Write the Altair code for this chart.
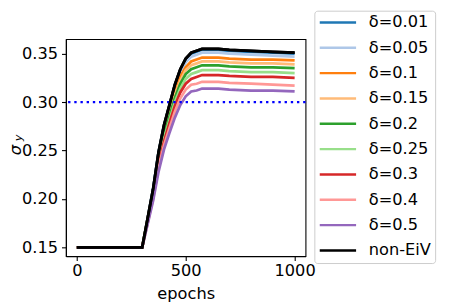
import altair as alt
import pandas as pd

epochs = [0, 300, 325, 350, 375, 400, 425, 450, 475, 500, 525, 550, 575, 600, 650, 700, 800, 900, 1000]

labels = ["δ=0.01", "δ=0.05", "δ=0.1", "δ=0.15", "δ=0.2", "δ=0.25", "δ=0.3", "δ=0.4", "δ=0.5", "non-EiV"]
colors = ["#1f77b4", "#aec7e8", "#ff7f0e", "#ffbb78", "#2ca02c", "#98df8a", "#d62728", "#ff9896", "#9467bd", "#000000"]

d001 = [0.150, 0.150, 0.180, 0.210, 0.248, 0.275, 0.296, 0.317, 0.333, 0.344, 0.350, 0.352, 0.354, 0.354, 0.354, 0.353, 0.352, 0.351, 0.350]
d005 = [0.150, 0.150, 0.179, 0.209, 0.246, 0.274, 0.294, 0.315, 0.330, 0.341, 0.347, 0.349, 0.351, 0.351, 0.351, 0.350, 0.349, 0.348, 0.347]
d010 = [0.150, 0.150, 0.179, 0.207, 0.244, 0.270, 0.290, 0.311, 0.326, 0.336, 0.342, 0.344, 0.346, 0.346, 0.346, 0.345, 0.344, 0.344, 0.343]
d015 = [0.150, 0.150, 0.178, 0.206, 0.242, 0.268, 0.288, 0.307, 0.322, 0.333, 0.338, 0.340, 0.342, 0.342, 0.342, 0.341, 0.340, 0.340, 0.339]
d020 = [0.150, 0.150, 0.177, 0.205, 0.240, 0.266, 0.285, 0.304, 0.319, 0.329, 0.334, 0.336, 0.338, 0.338, 0.338, 0.337, 0.336, 0.336, 0.335]
d025 = [0.150, 0.150, 0.177, 0.204, 0.237, 0.262, 0.281, 0.300, 0.314, 0.324, 0.329, 0.331, 0.333, 0.333, 0.333, 0.332, 0.331, 0.331, 0.330]
d030 = [0.150, 0.150, 0.176, 0.202, 0.235, 0.259, 0.278, 0.296, 0.310, 0.319, 0.324, 0.326, 0.328, 0.328, 0.328, 0.327, 0.326, 0.326, 0.325]
d040 = [0.150, 0.150, 0.175, 0.200, 0.232, 0.255, 0.273, 0.290, 0.304, 0.313, 0.318, 0.319, 0.321, 0.321, 0.321, 0.320, 0.319, 0.318, 0.317]
d050 = [0.150, 0.150, 0.174, 0.198, 0.228, 0.251, 0.268, 0.284, 0.297, 0.306, 0.311, 0.312, 0.314, 0.314, 0.314, 0.313, 0.312, 0.312, 0.311]
non_eiv = [0.150, 0.150, 0.180, 0.210, 0.248, 0.276, 0.297, 0.318, 0.334, 0.345, 0.351, 0.353, 0.355, 0.355, 0.355, 0.354, 0.353, 0.352, 0.351]

threshold = [0.30]
y_ticks = [0.15, 0.20, 0.25, 0.30, 0.35]
x_ticks = [0, 500, 1000]

series = [d001, d005, d010, d015, d020, d025, d030, d040, d050, non_eiv]
rows = []
for lab, vals in zip(labels, series):
    for e, v in zip(epochs, vals):
        rows.append({"epoch": e, "sigma": v, "series": lab})
df = pd.DataFrame(rows)

FONT = "DejaVu Sans"

color = alt.Color(
    "series:N",
    scale=alt.Scale(domain=labels, range=colors),
    legend=alt.Legend(
        orient="none", legendX=253, legendY=-29, title=None,
        symbolType="stroke", symbolSize=1369, symbolStrokeWidth=2.5,
        labelOffset=11.5, clipHeight=16, rowPadding=8.8, padding=4,
        strokeColor="#cccccc", fillColor="rgba(255,255,255,0.8)", cornerRadius=3,
        labelFont=FONT, labelFontSize=16.5, labelColor="#000000",
        labelExpr="datum.label + '\u2002'",
    ),
)

x = alt.X("epoch:Q", scale=alt.Scale(domain=[-50, 1050], nice=False, zero=False),
          axis=alt.Axis(values=x_ticks, format="d", title="epochs", grid=False, tickSize=4.5,
                        labelPadding=2, titlePadding=7))
y = alt.Y("sigma:Q", scale=alt.Scale(domain=[0.141, 0.365], nice=False, zero=False),
          axis=alt.Axis(values=y_ticks, format=".2f", title=None, grid=False,
                        tickSize=4.5, labelPadding=4))

lines = alt.Chart(df).mark_line(strokeWidth=2.8).encode(
    x=x, y=y, color=color, order="epoch:Q"
)
black = alt.Chart(df[df.series == "non-EiV"]).mark_line(strokeWidth=2.8).encode(
    x=x, y=y, color=color, order="epoch:Q"
)

hline = alt.Chart(pd.DataFrame({"t": threshold})).mark_rule(
    color="#0000ff", strokeWidth=2.4, strokeDash=[2.4, 3.9]
).encode(y="t:Q")

sig = alt.Chart(pd.DataFrame({"s": ["σ"]})).mark_text(
    angle=270, font=FONT, fontStyle="italic", fontSize=16.5, align="center",
    baseline="alphabetic", color="#000000"
).encode(x=alt.value(-46), y=alt.value(113), text="s:N")
sub = alt.Chart(pd.DataFrame({"s": ["y"]})).mark_text(
    angle=270, font=FONT, fontStyle="italic", fontSize=11.5, align="center",
    baseline="alphabetic", color="#000000"
).encode(x=alt.value(-44.5), y=alt.value(100.5), text="s:N")

chart = alt.layer(lines, hline, black, sig, sub).properties(
    width=244, height=221,
    autosize=alt.AutoSizeParams(type="none"),
    padding={"left": 59, "top": 29, "right": 139, "bottom": 48},
).configure_view(stroke="#000000", strokeWidth=1.1).configure_axis(
    domainColor="#000000", domainWidth=1.1, tickColor="#000000", tickWidth=1.1,
    labelFont=FONT, labelFontSize=16.5, labelColor="#000000",
    titleFont=FONT, titleFontSize=16.5, titleColor="#000000", titleFontWeight="normal",
)

chart.save("out.html", embed_options={"renderer": "svg", "actions": False})
